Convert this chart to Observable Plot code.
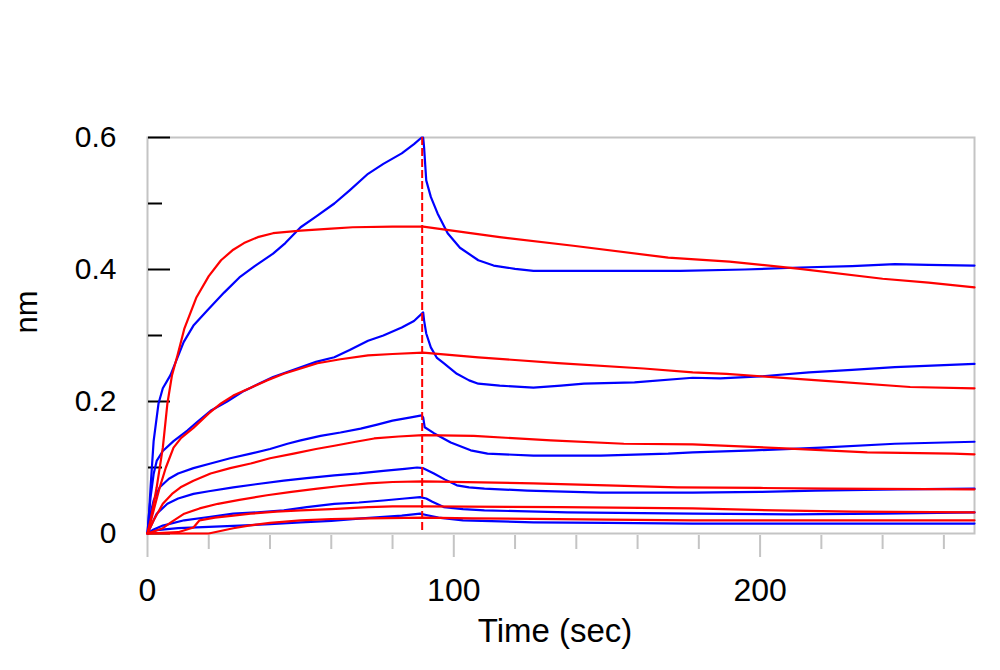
<!DOCTYPE html>
<html><head><meta charset="utf-8">
<script src="https://cdn.jsdelivr.net/npm/d3@7"></script>
<script src="https://cdn.jsdelivr.net/npm/@observablehq/plot@0.6"></script>
<style>body{margin:0;background:#fff}</style>
</head><body><div id="chart"></div>
<script>
// Measured sensorgrams (blue), time in sec, response in nm
const blue1 = [[0,0],[0.5,0.03],[1,0.07],[2,0.14],[3.6,0.197],[5,0.22],[7.5,0.24],[11.8,0.29],[15,0.315],[19.5,0.338],[25,0.365],[30,0.388],[35,0.405],[41,0.424],[45,0.44],[50,0.464],[55,0.48],[61,0.5],[66,0.52],[72,0.545],[77,0.56],[83,0.576],[87,0.59],[89.5,0.6],[90,0.6],[90.3,0.585],[91,0.535],[92.5,0.51],[94.7,0.485],[98,0.455],[102,0.433],[108,0.414],[113,0.406],[120,0.401],[126,0.398],[150,0.398],[174,0.398],[195,0.4],[213,0.403],[230,0.405],[244,0.408],[255,0.407],[270,0.406]];
const blue2 = [[0,0],[0.5,0.03],[1,0.055],[2,0.09],[3,0.11],[5,0.125],[8.5,0.14],[13,0.156],[16,0.168],[20.6,0.186],[26,0.2],[31.5,0.216],[36,0.226],[41,0.237],[50,0.252],[55,0.26],[61,0.267],[66,0.278],[72,0.292],[77,0.3],[83,0.312],[87,0.322],[90,0.335],[90.3,0.323],[91,0.303],[92.5,0.282],[94.5,0.266],[96.7,0.258],[101,0.242],[105,0.232],[108,0.227],[115,0.224],[126,0.221],[135,0.224],[142.5,0.227],[159,0.229],[178,0.236],[187,0.235],[200,0.238],[216,0.244],[230,0.248],[244,0.252],[260,0.255],[270,0.257]];
const blue3 = [[0,0],[0.5,0.015],[1,0.03],[2,0.05],[4,0.07],[7,0.083],[10,0.091],[15,0.099],[20.6,0.106],[27,0.114],[33.7,0.121],[40,0.128],[45.7,0.136],[50,0.141],[56.5,0.148],[63,0.153],[69.6,0.159],[75,0.165],[80,0.171],[86,0.176],[89.5,0.179],[90,0.176],[90.5,0.161],[93.5,0.152],[99,0.138],[105.5,0.126],[111,0.121],[126,0.118],[148,0.118],[170,0.121],[178,0.123],[198,0.126],[220,0.13],[244,0.136],[270,0.139]];
const blue4 = [[0,0],[1,0.01],[3,0.03],[6.5,0.045],[10,0.053],[15,0.06],[20,0.064],[28,0.07],[36,0.075],[44.5,0.08],[52,0.084],[61,0.088],[69,0.091],[77,0.095],[84,0.098],[88,0.1],[90,0.099],[93.5,0.091],[97,0.082],[101,0.073],[105,0.07],[110,0.068],[124,0.065],[148,0.062],[178,0.062],[200,0.063],[218,0.065],[245,0.067],[270,0.068]];
const blue5 = [[0,0],[2,0.006],[5,0.012],[12,0.02],[20,0.025],[28,0.03],[36,0.032],[44.5,0.035],[52,0.04],[61,0.045],[69,0.047],[77,0.05],[84,0.053],[89,0.055],[91,0.053],[93,0.048],[96.7,0.04],[103,0.037],[110,0.035],[137,0.032],[178,0.03],[210,0.029],[240,0.03],[270,0.032]];
const blue6 = [[0,0],[3,0.005],[10,0.008],[20,0.01],[30,0.012],[40,0.014],[50,0.017],[60,0.019],[70,0.023],[83,0.027],[89,0.03],[91,0.028],[95,0.024],[103,0.02],[126,0.017],[150,0.016],[178,0.015],[220,0.015],[270,0.015]];
// Fitted curves (red)
const red1 = [[0,0],[1,0.02],[3,0.07],[5,0.13],[6.5,0.197],[8,0.24],[9.8,0.27],[12,0.31],[16,0.358],[20,0.39],[24,0.414],[28,0.43],[31.5,0.44],[36,0.449],[41,0.455],[50,0.459],[60,0.462],[67,0.464],[80,0.465],[90,0.465],[115,0.449],[139,0.436],[170,0.418],[190,0.412],[213,0.401],[240,0.386],[255,0.38],[270,0.373]];
const red2 = [[0,0],[2,0.035],[4,0.07],[6,0.1],[8.5,0.13],[11,0.145],[15,0.16],[20,0.182],[24,0.197],[28,0.209],[33.7,0.221],[39,0.232],[44.5,0.242],[50,0.25],[55.5,0.258],[63,0.264],[72,0.27],[80,0.272],[90,0.274],[108,0.267],[134,0.258],[162,0.25],[178,0.244],[189,0.242],[219,0.232],[249,0.222],[270,0.22]];
const red3 = [[0,0],[2,0.02],[5,0.045],[8,0.06],[10.8,0.07],[15,0.08],[20.6,0.091],[27,0.099],[33.7,0.106],[40,0.114],[47.7,0.121],[55,0.128],[61,0.133],[68,0.139],[74,0.144],[82,0.147],[90,0.149],[106.5,0.148],[131.7,0.141],[155.5,0.136],[178,0.135],[208,0.129],[235,0.123],[263,0.121],[270,0.12]];
const red4 = [[0,0],[5,0.008],[8,0.018],[12,0.03],[17,0.038],[23,0.045],[30,0.051],[39,0.058],[47,0.063],[55.5,0.068],[63,0.072],[72,0.076],[80,0.078],[90,0.079],[126,0.076],[150,0.073],[173,0.07],[200,0.069],[223,0.068],[270,0.067]];
const red5 = [[0,0],[10,0.002],[15,0.009],[17,0.02],[22,0.024],[28,0.027],[33.7,0.03],[42,0.033],[50,0.035],[60,0.037],[72,0.04],[80,0.041],[90,0.041],[135,0.04],[178,0.038],[205,0.035],[230,0.033],[270,0.032]];
const red6 = [[0,0],[20,0],[28,0.008],[33,0.012],[40,0.016],[50,0.02],[60,0.022],[72,0.023],[90,0.024],[106,0.023],[150,0.021],[178,0.02],[220,0.02],[270,0.02]];

const dissociationStart = 90;
const xMajorTicks = [0, 100, 200];
const xMinorTicks = [20, 40, 60, 80, 120, 140, 160, 180, 220, 240, 260];
const yMajorTicks = [0, 0.2, 0.4, 0.6];
const yMinorTicks = [0.1, 0.3, 0.5];

const toRows = (list) => list.flatMap((s, i) => s.map(([t, v]) => ({t, v, id: i})));
const blueRows = toRows([blue1, blue2, blue3, blue4, blue5, blue6]);
const redRows = toRows([red1, red2, red3, red4, red5, red6]);

const yFmt = d => d === 0 ? "0" : d.toFixed(1);

const chart = Plot.plot({
  width: 1000, height: 670,
  marginLeft: 147, marginRight: 26, marginTop: 137, marginBottom: 137,
  style: {fontFamily: "'Liberation Sans', Arial, sans-serif", background: "#fff", maxWidth: "none", color: "#000"},
  x: {domain: [0, 270], axis: null, label: null},
  y: {domain: [0, 0.6], axis: null, label: null},
  marks: [
    Plot.frame({stroke: "#c4c4c4", strokeWidth: 2}),
    Plot.axisX(xMajorTicks, {anchor: "bottom", tickSize: 22, text: null, label: null, stroke: "#c4c4c4", strokeWidth: 2, dy: 2}),
    Plot.axisX(xMinorTicks, {anchor: "bottom", tickSize: 14, text: null, label: null, stroke: "#c4c4c4", strokeWidth: 2, dy: 2}),
    Plot.axisX(xMajorTicks, {anchor: "bottom", tickSize: 0, tickPadding: 45, fontSize: 32, label: null, tickFormat: d => String(d)}),
    Plot.axisY(yMajorTicks, {anchor: "right", frameAnchor: "left", tickSize: 22, text: null, label: null, stroke: "#000", strokeWidth: 2}),
    Plot.axisY(yMinorTicks, {anchor: "right", frameAnchor: "left", tickSize: 14, text: null, label: null, stroke: "#000", strokeWidth: 2}),
    Plot.axisY(yMajorTicks, {anchor: "left", tickSize: 0, tickPadding: 31, fontSize: 30, label: null, tickFormat: yFmt}),
    Plot.line(blueRows, {x: "t", y: "v", z: "id", stroke: "#0000ff", strokeWidth: 2.2}),
    Plot.line(redRows, {x: "t", y: "v", z: "id", stroke: "#ff0000", strokeWidth: 2.2}),
    Plot.ruleX([dissociationStart], {stroke: "#ff0000", strokeWidth: 2, strokeDasharray: "8,3", dx: -1}),
    Plot.text(["Time (sec)"], {frameAnchor: "bottom", dy: 108, dx: -6, fontSize: 33, fill: "#000"}),
    Plot.text(["nm"], {frameAnchor: "left", rotate: -90, dx: -120, dy: -2, fontSize: 31, fill: "#000"})
  ]
});
document.getElementById("chart").appendChild(chart);
</script>
</body></html>
